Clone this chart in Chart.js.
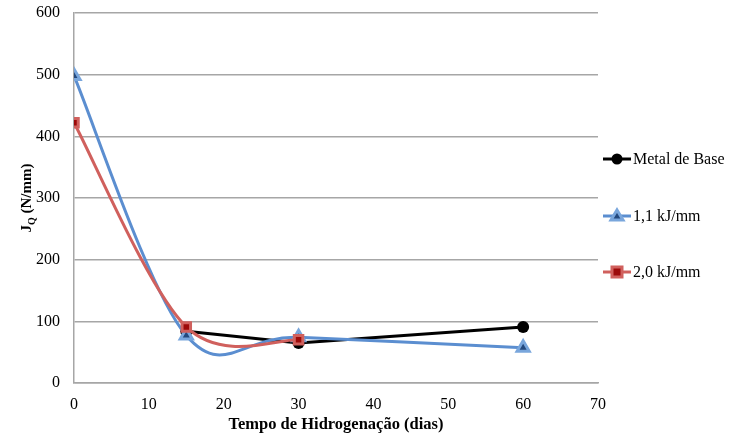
<!DOCTYPE html>
<html>
<head>
<meta charset="utf-8">
<script src="https://cdn.jsdelivr.net/npm/chart.js@4"></script>
<style>
html,body{margin:0;padding:0;background:#fff;}
#wrap{width:729px;height:436px;position:relative;}
</style>
</head>
<body>
<div id="wrap"><canvas id="c" width="729" height="436"></canvas></div>
<script>
const days = [0, 15, 30, 60];
const metalBase = [null, 84, 65, 91];
const kj11 = [498, 77, 74, 57];
const kj20 = [422, 91, 70, null];
const seriesNames = ['Metal de Base', '1,1 kJ/mm', '2,0 kJ/mm'];
const xTicks = [0, 10, 20, 30, 40, 50, 60, 70];
const yTicks = [0, 100, 200, 300, 400, 500, 600];

function pts(vals){ return days.map((d,i)=>({x:d,y:vals[i]})).filter(p=>p.y!==null); }

const SERIF = "'Liberation Serif', 'Times New Roman', serif";

// Excel-like smoothing: symmetric Catmull-Rom style control points
const smoothPlugin = {
  id: 'excelSmooth',
  beforeDatasetDraw(chart, args) {
    const meta = args.meta;
    const line = meta.dataset;
    if (!line) return;
    line.updateControlPoints(chart.chartArea, meta.iScale.axis);
    const p = meta.data;
    const k = 1/6;
    for (let i = 0; i < p.length; i++) {
      const prev = p[i-1] || p[i];
      const next = p[i+1] || p[i];
      const tx = (next.x - prev.x) * k, ty = (next.y - prev.y) * k;
      p[i].cp1x = p[i].x - tx; p[i].cp1y = p[i].y - ty;
      p[i].cp2x = p[i].x + tx; p[i].cp2y = p[i].y + ty;
    }
  }
};

const legendPlugin = {
  id: 'sideLegend',
  afterDraw(chart){
    const ctx = chart.ctx;
    const ys = [159, 216, 272];
    chart.data.datasets.forEach((ds, i) => {
      const y = ys[i];
      ctx.save();
      ctx.strokeStyle = ds.borderColor;
      ctx.lineWidth = 3;
      ctx.beginPath(); ctx.moveTo(603, y); ctx.lineTo(631, y); ctx.stroke();
      const cx = 617;
      ctx.fillStyle = ds.pointBackgroundColor;
      ctx.strokeStyle = ds.pointBorderColor;
      ctx.lineWidth = ds.pointBorderWidth;
      ctx.beginPath();
      if (ds.pointStyle === 'circle') { ctx.arc(cx, y, 5.5, 0, Math.PI*2); }
      else if (ds.pointStyle === 'triangle') { ctx.moveTo(cx, y-6); ctx.lineTo(cx+6, y+4); ctx.lineTo(cx-6, y+4); ctx.closePath(); }
      else { ctx.rect(cx-5, y-5, 10, 10); }
      ctx.fill(); if (ds.pointBorderWidth) ctx.stroke();
      ctx.fillStyle = '#000';
      ctx.font = '16px ' + SERIF;
      ctx.textBaseline = 'middle';
      ctx.textAlign = 'left';
      ctx.fillText(ds.label, 633, y+1);
      ctx.restore();
    });
    // y-axis title with subscript
    ctx.save();
    ctx.translate(26, 198);
    ctx.rotate(-Math.PI/2);
    ctx.fillStyle = '#000';
    ctx.textBaseline = 'alphabetic';
    ctx.textAlign = 'left';
    const parts = [['J', 'bold 15px', 0], ['Q', 'bold 10px', 4], [' (N/mm)', 'bold 15px', 0]];
    let total = 0;
    parts.forEach(p => { ctx.font = p[1] + ' ' + SERIF; total += ctx.measureText(p[0]).width; });
    let x = -total/2;
    parts.forEach(p => { ctx.font = p[1] + ' ' + SERIF; ctx.fillText(p[0], x, 5 + p[2]); x += ctx.measureText(p[0]).width; });
    ctx.restore();
  }
};

new Chart(document.getElementById('c'), {
  type: 'line',
  data: {
    datasets: [
      { label: seriesNames[0], data: pts(metalBase), borderColor: '#000000', borderWidth: 3,
        pointStyle: 'circle', pointRadius: 6, pointBackgroundColor: '#000', pointBorderColor: '#000', pointBorderWidth: 0, tension: 0, order: 3 },
      { label: seriesNames[1], data: pts(kj11), borderColor: '#5b8ed0', borderWidth: 3,
        pointStyle: 'triangle', pointRadius: 7, pointBackgroundColor: '#24497e', pointBorderColor: '#79a6dc', pointBorderWidth: 3, tension: 0.4, order: 2 },
      { label: seriesNames[2], data: pts(kj20), borderColor: '#d0605d', borderWidth: 3,
        pointStyle: 'rect', pointRadius: 6, pointBackgroundColor: '#9c0a0a', pointBorderColor: '#d0605d', pointBorderWidth: 3, tension: 0.4, order: 1 }
    ]
  },
  options: {
    responsive: false,
    animation: false,
    layout: { padding: { left: 0, right: 131, top: 13, bottom: 0 } },
    plugins: { legend: { display: false }, tooltip: { enabled: false } },
    scales: {
      x: {
        type: 'linear', min: 0, max: 70,
        afterBuildTicks: s => { s.ticks = xTicks.map(v => ({value: v})); },
        afterFit: s => { s.height = 53; s.paddingLeft = 0; s.paddingRight = 0; },
        grid: { display: false, drawTicks: false },
        border: { display: true, color: '#a6a6a6', width: 1.5 },
        ticks: { color: '#000', font: { family: SERIF, size: 16 }, padding: 12 },
        title: { display: true, text: 'Tempo de Hidrogenação (dias)', color: '#000', font: { family: SERIF, size: 16.5, weight: 'bold' }, padding: { top: 0, bottom: 1 } }
      },
      y: {
        min: 0, max: 600,
        afterBuildTicks: s => { s.ticks = yTicks.map(v => ({value: v})); },
        afterFit: s => { s.width = 74; s.paddingTop = 0; s.paddingBottom = 0; },
        grid: { color: '#a6a6a6', lineWidth: 1.5, drawTicks: false },
        border: { display: true, color: '#a6a6a6', width: 1.5 },
        ticks: { color: '#000', font: { family: SERIF, size: 16 }, padding: 14 }
      }
    }
  },
  plugins: [smoothPlugin, legendPlugin]
});
</script>
</body>
</html>
